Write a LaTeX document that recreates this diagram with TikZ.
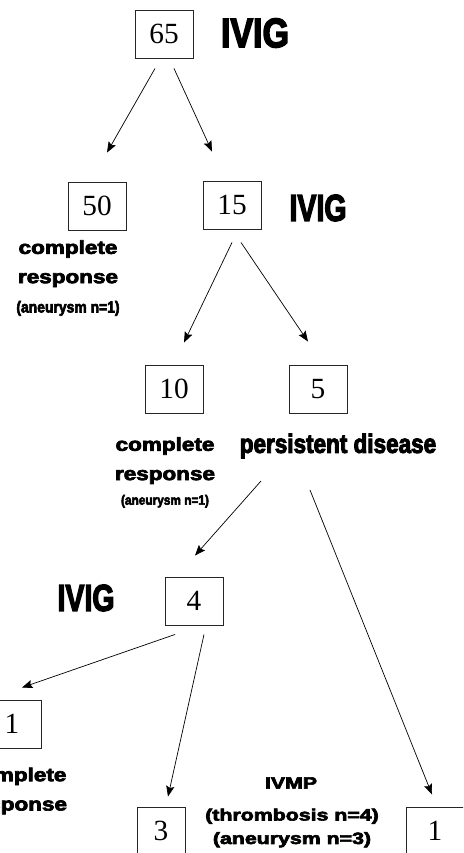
\documentclass[tikz,border=0pt]{standalone}
\usepackage{fontspec}
\usepackage{graphicx}
\usetikzlibrary{arrows.meta,calc}
\newfontfamily\numfont{Liberation Serif}
\newfontfamily\heavyfont{Liberation Sans}[FakeBold=3.5]
\newfontfamily\impactfont{Liberation Sans}[FakeBold=4]
\newcommand{\widen}[1]{\scalebox{1.2}[1]{#1}}
\newcommand{\narrow}[1]{\scalebox{0.76}[1]{#1}}
\newcommand{\slim}[1]{\scalebox{0.88}[1]{#1}}
\tikzstyle{numbox} = [rectangle, draw=black!85, line width=0.8pt, minimum width=1.74cm, minimum height=1.44cm, inner sep=0pt, font=\numfont\fontsize{25}{25}\selectfont]
\tikzstyle{drug} = [inner sep=0pt, font=\impactfont\bfseries\fontsize{32}{32}\selectfont]
\tikzstyle{outcome} = [inner sep=0pt, align=center, font=\heavyfont\bfseries\fontsize{16}{25}\selectfont]
\tikzstyle{arr} = [-{Stealth[length=9pt,width=7pt,inset=1.5pt]}, line width=0.6pt]

\begin{document}
\begin{tikzpicture}[x=0.03cm, y=-0.03cm, node distance=1cm]
        \useasboundingbox (0,0) rectangle (463,853);
        \clip (0,0) rectangle (463,853);

        \node (n65) [numbox] at (164,34) {65};
        \node (n50) [numbox] at (97,206) {50};
        \node (n15) [numbox] at (232,205) {15};
        \node (n10) [numbox] at (174,389) {10};
        \node (n5) [numbox] at (318,389) {5};
        \node (n4) [numbox] at (194,601) {4};
        \node (nL1) [numbox] at (12,724) {1};
        \node (n3) [numbox, minimum width=1.44cm] at (161,831) {3};
        \node (nR1) [numbox] at (435,831) {1};

        \node (ivigA) [drug, right of=n65, xshift=1.73cm, yshift=0.03cm] {\scalebox{0.83}[1]{\fontsize{35}{35}\selectfont IVIG}};
        \node (ivigB) [drug, right of=n15, xshift=1.58cm, yshift=-0.09cm] {\narrow{IVIG}};
        \node (ivigC) [drug, left of=n4, xshift=-2.24cm, yshift=0.09cm] {\narrow{IVIG}};

        \node (crA) [outcome, below of=n50, xshift=-0.87cm, yshift=-1.16cm] {\widen{complete}\\\widen{response}\\{\impactfont\bfseries\fontsize{13.5}{14}\selectfont\slim{(aneurysm n=1)}}};
        \node (crB) [outcome, below of=n10, xshift=-0.27cm, yshift=-1.5cm] {\widen{complete}\\\widen{response}\\[-4pt]{\impactfont\bfseries\fontsize{11.5}{12}\selectfont\slim{(aneurysm n=1)}}};
        \node (pd) [drug, font=\impactfont\bfseries\fontsize{22.6}{24}\selectfont, below of=n5, xshift=0.6cm, yshift=-0.71cm] {\scalebox{0.85}[1]{persistent disease}};
        \node (crC) [outcome, below of=nL1, xshift=0.15cm, yshift=-1.01cm] {\widen{complete}\\\widen{response}};
        \node (ivmp) [outcome, font=\heavyfont\bfseries\fontsize{14}{20}\selectfont, right of=n3, xshift=2.9cm, yshift=1.44cm] {\scalebox{1.3}[1]{IVMP}};
        \node (comp) [outcome, font=\heavyfont\bfseries\fontsize{14}{20}\selectfont, right of=n3, xshift=2.93cm, yshift=0.09cm] {\scalebox{1.3}[1]{(thrombosis n=4)}\\\scalebox{1.3}[1]{(aneurysm n=3)}};

        \draw [arr] ($(n65.south)+(-9,10)$) -- ($(n50.north)+(10,-29)$);
        \draw [arr] ($(n65.south)+(10,10)$) -- ($(n15.north)+(-20,-29)$);
        \draw [arr] ($(n15.south)+(0,13)$) -- ($(n10.north)+(10,-22)$);
        \draw [arr] ($(n15.south)+(9,13)$) -- ($(n5.north)+(-10,-23)$);
        \draw [arr] ($(pd.center)+(-77,35)$) -- ($(n4.north)+(1,-21)$);
        \draw [arr] ($(pd.center)+(-28,44)$) -- ($(nR1.north)+(-3,-12)$);
        \draw [arr] ($(n4.south)+(-19,9)$) -- ($(nL1.north)+(10,-12)$);
        \draw [arr] ($(n4.south)+(10,9)$) -- ($(n3.north)+(7,-10)$);
    \end{tikzpicture}
\end{document}
